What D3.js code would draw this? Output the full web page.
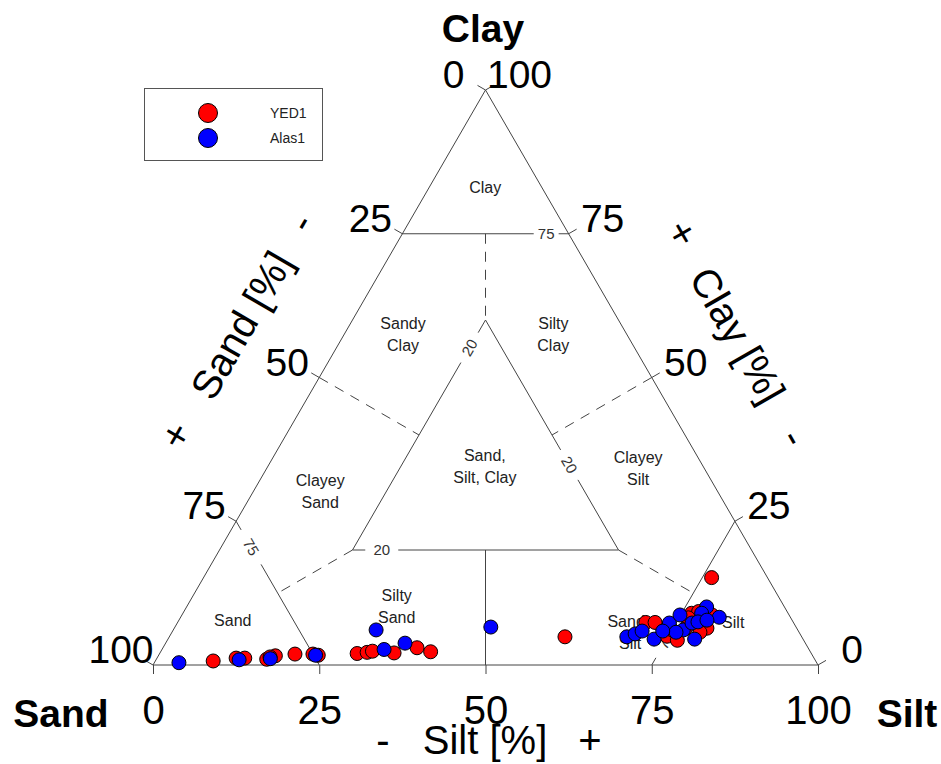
<!DOCTYPE html>
<html>
<head>
<meta charset="utf-8">
<script src="https://cdnjs.cloudflare.com/ajax/libs/d3/7.8.5/d3.min.js"></script>
<style>
  body { margin: 0; background: #fff; }
  text { font-family: "Liberation Sans", Arial, sans-serif; }
</style>
</head>
<body>
<div id="chart"></div>
<script>
// tick values on every side of the triangle
var tickValues = [0, 25, 50, 75, 100];

// samples as [sand, silt, clay] in %
var yed1 = [
  [90.6, 8.7, 0.7], [86.9, 11.9, 1.2], [85.6, 13.2, 1.2], [82.4, 16.6, 1.0],
  [80.8, 17.6, 1.6], [81.7, 16.9, 1.4], [77.7, 20.4, 1.9], [75.0, 23.1, 1.9],
  [74.3, 24.0, 1.7], [68.3, 29.7, 2.0], [66.7, 31.1, 2.2], [65.8, 31.8, 2.4],
  [62.7, 35.2, 2.1], [58.8, 38.2, 3.0], [57.1, 40.6, 2.3], [35.6, 59.5, 4.9],
  [8.4, 76.4, 15.2], [22.2, 70.4, 7.4], [20.8, 71.8, 7.4], [20.2, 74.8, 5.0],
  [19.0, 76.7, 4.3], [14.5, 76.5, 9.0], [13.3, 77.4, 9.3], [13.5, 80.1, 6.4],
  [16.7, 76.9, 6.4], [18.9, 75.0, 6.1], [14.9, 79.4, 5.7], [15.4, 76.4, 8.2],
  [11.6, 79.7, 8.7]
];
var alas1 = [
  [95.9, 3.7, 0.4], [86.6, 12.5, 0.9], [81.8, 17.1, 1.1], [74.7, 23.6, 1.7],
  [63.9, 33.4, 2.7], [60.2, 36.0, 3.8], [63.4, 30.5, 6.1], [45.9, 47.5, 6.6],
  [26.3, 68.8, 4.9], [24.8, 69.8, 5.4], [23.5, 70.6, 5.9], [22.4, 73.1, 4.5],
  [18.7, 74.0, 7.3], [16.4, 74.9, 8.7], [11.7, 78.2, 10.1], [13.0, 78.0, 9.0],
  [10.7, 81.0, 8.3], [17.2, 76.7, 6.1], [16.3, 79.2, 4.5], [15.3, 77.4, 7.3],
  [14.3, 78.2, 7.5], [12.8, 79.4, 7.8], [18.5, 75.8, 5.7], [20.4, 73.7, 5.9]
];
var seriesNames = ["YED1", "Alas1"];
var seriesColors = ["#ff0000", "#0000ff"];

// class names: text lines and [sand, silt, clay] anchor
var regionNames = [
  ["Clay"], ["Sandy", "Clay"], ["Silty", "Clay"], ["Sand,", "Silt, Clay"],
  ["Clayey", "Sand"], ["Clayey", "Silt"], ["Sand"], ["Silty", "Sand"],
  ["Sandy", "Silt"], ["Silt"]
];
var regionAnchors = [
  [8.5, 8.4, 83.1], [33.6, 8.8, 57.6], [11, 31.4, 57.6], [32.8, 32.6, 34.6],
  [59.7, 10, 30.3], [9.9, 55.8, 34.3], [84.1, 8.1, 7.8], [58.2, 31.5, 10.3],
  [25.4, 68.9, 5.7], [9, 83.5, 7.5]
];

var w = 941, h = 764;
var svg = d3.select("#chart").append("svg").attr("width", w).attr("height", h);

var xScale = d3.scaleLinear().domain([0, 100]).range([153, 818]);
var yScale = d3.scaleLinear().domain([0, 100]).range([665, 90]);

function px(p) { return xScale(p[1] + p[2] / 2); }
function py(p) { return yScale(p[2]); }
function mix(a, b, t) { return [a[0] + (b[0] - a[0]) * t, a[1] + (b[1] - a[1]) * t, a[2] + (b[2] - a[2]) * t]; }

var line = d3.line().x(px).y(py);
var lineCol = "#444";

// triangle
svg.append("path")
  .datum([[100, 0, 0], [0, 100, 0], [0, 0, 100], [100, 0, 0]])
  .attr("d", line).attr("fill", "none").attr("stroke", lineCol).attr("stroke-width", 1);

// solid class line with a label cut in
function labelLine(a, b, t, gap, label, rot) {
  svg.append("path").datum([a, mix(a, b, t - gap)]).attr("d", line)
    .attr("fill", "none").attr("stroke", lineCol);
  svg.append("path").datum([mix(a, b, t + gap), b]).attr("d", line)
    .attr("fill", "none").attr("stroke", lineCol);
  var m = mix(a, b, t);
  svg.append("text")
    .attr("transform", "translate(" + px(m) + "," + py(m) + ") rotate(" + rot + ")")
    .attr("text-anchor", "middle").attr("dy", "0.35em")
    .style("font-size", "15px").attr("fill", "#333").text(label);
}
labelLine([75, 0, 25], [75, 25, 0], 0.18, 0.12, "75", 60);
labelLine([25, 0, 75], [0, 25, 75], 0.865, 0.075, "75", 0);
labelLine([25, 75, 0], [0, 75, 25], 0.17, 0.12, "75", -60);
labelLine([60, 20, 20], [20, 60, 20], 0.11, 0.062, "20", 0);
labelLine([20, 20, 60], [60, 20, 20], 0.12, 0.065, "20", -60);
labelLine([20, 20, 60], [20, 60, 20], 0.63, 0.065, "20", 60);
svg.append("path").datum([[40, 40, 20], [50, 50, 0]]).attr("d", line)
  .attr("fill", "none").attr("stroke", lineCol);

// dashed boundaries
var dashed = [
  [[12.5, 12.5, 75], [20, 20, 60]],
  [[50, 0, 50], [40, 20, 40]],
  [[0, 50, 50], [20, 40, 40]],
  [[60, 20, 20], [75, 12.5, 12.5]],
  [[20, 60, 20], [12.5, 75, 12.5]]
];
svg.selectAll(".dash").data(dashed).enter().append("path")
  .attr("class", "dash").attr("d", line)
  .attr("fill", "none").attr("stroke", lineCol).attr("stroke-dasharray", "10,8");

// bottom axis (silt)
var xAxis = d3.axisBottom(xScale).tickValues(tickValues).tickSize(9).tickPadding(22);
var gx = svg.append("g").attr("transform", "translate(0," + yScale(0) + ")").call(xAxis);
gx.select(".domain").remove();
gx.selectAll("line").attr("stroke", lineCol);
gx.selectAll("text").style("font-size", "40px").attr("font-family", "Liberation Sans, Arial, sans-serif");

// left side (sand) and right side (clay) ticks
var leftPts = tickValues.map(function(v) { return [v, 0, 100 - v]; });
var rightPts = tickValues.map(function(v) { return [0, 100 - v, v]; });

svg.selectAll(".ltick").data(leftPts).enter().append("line")
  .attr("x1", px).attr("y1", py)
  .attr("x2", function(d) { return px(d) - 8; })
  .attr("y2", function(d) { return py(d) - 4.6; })
  .attr("stroke", lineCol);
svg.selectAll(".ltxt").data(leftPts).enter().append("text")
  .attr("x", function(d) { return px(d) - 32; })
  .attr("y", function(d) { return py(d) - 16; })
  .attr("dy", "0.36em").attr("text-anchor", "middle").style("font-size", "39px")
  .text(function(d) { return d[0]; });

svg.selectAll(".rtick").data(rightPts).enter().append("line")
  .attr("x1", px).attr("y1", py)
  .attr("x2", function(d) { return px(d) + 8; })
  .attr("y2", function(d) { return py(d) - 4.6; })
  .attr("stroke", lineCol);
svg.selectAll(".rtxt").data(rightPts).enter().append("text")
  .attr("x", function(d) { return px(d) + 34; })
  .attr("y", function(d) { return py(d) - 16; })
  .attr("dy", "0.36em").attr("text-anchor", "middle").style("font-size", "39px")
  .text(function(d) { return d[2]; });

// region names
regionNames.forEach(function(lines, i) {
  var a = regionAnchors[i];
  var t = svg.append("text").attr("x", px(a)).attr("y", py(a))
    .attr("text-anchor", "middle").style("font-size", "16px").attr("fill", "#222");
  lines.forEach(function(s, j) {
    t.append("tspan").attr("x", px(a)).attr("dy", j === 0 ? (-(lines.length - 1) * 11 + 6) + "px" : "22px").text(s);
  });
});

// titles
function title(x, y, s, size, bold, rot) {
  svg.append("text").attr("transform", "translate(" + x + "," + y + ") rotate(" + (rot || 0) + ")")
    .attr("text-anchor", "middle").attr("dy", "0.36em")
    .style("font-size", size + "px").style("font-weight", bold ? "bold" : "normal").text(s);
}
title(483, 28, "Clay", 39, true);
title(61, 713, "Sand", 39, true);
title(907, 713, "Silt", 39, true);
title(485, 740, "Silt [%]", 40, false);
title(383, 740, "-", 40, false);
title(590, 740, "+", 40, false);
title(241, 325, "Sand [%]", 40, false, -60);
title(300, 222, "-", 40, false, -60);
title(175, 435, "+", 40, false, -60);
title(738, 335, "Clay [%]", 40, false, 60);
title(683, 233, "+", 40, false, 60);
title(795, 437, "-", 40, false, 60);

// points
[yed1, alas1].forEach(function(series, i) {
  svg.append("g").selectAll("circle").data(series).enter().append("circle")
    .attr("cx", px).attr("cy", py).attr("r", 7)
    .attr("fill", seriesColors[i]).attr("stroke", "#000").attr("stroke-width", 1);
});

// legend
var legend = svg.append("g");
legend.append("rect").attr("x", 144.5).attr("y", 88.5).attr("width", 178).attr("height", 72)
  .attr("fill", "#fff").attr("stroke", "#555");
seriesNames.forEach(function(name, i) {
  legend.append("circle").attr("cx", 208).attr("cy", 113 + i * 25).attr("r", 9.5)
    .attr("fill", seriesColors[i]).attr("stroke", "#000");
  legend.append("text").attr("x", 270).attr("y", 118 + i * 25)
    .style("font-size", "14px").attr("fill", "#222").text(name);
});
</script>
</body>
</html>
